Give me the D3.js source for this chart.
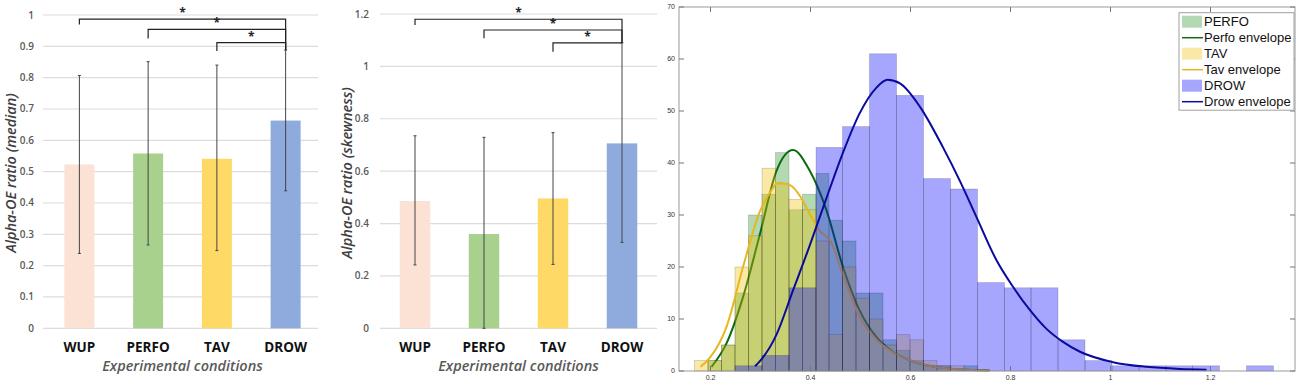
<!DOCTYPE html>
<html>
<head>
<meta charset="utf-8">
<script src="https://cdn.jsdelivr.net/npm/d3@7"></script>
<style>
  body { margin: 0; background: #fff; }
  svg { display: block; }
</style>
</head>
<body>
<svg id="chart" width="1300" height="383"></svg>
<script>
// ---- bar panels data ----
const categories = ['WUP', 'PERFO', 'TAV', 'DROW']
const barColors = ['#fbe2d4', '#a9d18e', '#ffd966', '#8faadc']

const medianValues = [0.523, 0.558, 0.541, 0.663]
const medianLow = [0.239, 0.266, 0.248, 0.439]
const medianHigh = [0.807, 0.851, 0.840, 0.888]
const medianTicks = [0, 0.1, 0.2, 0.3, 0.4, 0.5, 0.6, 0.7, 0.8, 0.9, 1]

const skewValues = [0.486, 0.360, 0.496, 0.706]
const skewLow = [0.242, 0, 0.244, 0.328]
const skewHigh = [0.735, 0.729, 0.747, 1.090]
const skewTicks = [0, 0.2, 0.4, 0.6, 0.8, 1, 1.2]

// significance brackets (all against DROW)
const bracketFrom = ['WUP', 'PERFO', 'TAV']
const medianBracketLevel = [0.987, 0.954, 0.912]
const medianBracketDrop = [0.970, 0.925, 0.885]
const skewBracketLevel = [1.180, 1.139, 1.090]
const skewBracketDrop = [1.158, 1.107, 1.056]

// ---- histogram panel data ----
const histEdges = [0.168, 0.195, 0.222, 0.249, 0.276, 0.303, 0.330, 0.357, 0.384, 0.411, 0.437, 0.464,
  0.491, 0.518, 0.545, 0.572, 0.599, 0.626, 0.653, 0.680, 0.707, 0.734, 0.761, 0.788]
const perfoCounts = [0, 2, 5, 15, 30, 34, 42, 31, 34, 38, 29, 25, 15, 15, 6, 4, 2, 1, 1, 0, 1, 0, 0]
const tavCounts = [2, 2, 5, 20, 26, 39, 36, 33, 31, 25, 7, 20, 14, 10, 5, 7, 6, 2, 1, 1, 0, 0, 0]
const drowEdges = [0.249, 0.303, 0.357, 0.411, 0.464, 0.518, 0.572, 0.626, 0.680, 0.734, 0.788,
  0.841, 0.895, 0.949, 1.003, 1.057, 1.111, 1.164, 1.218, 1.272, 1.326]
const drowCounts = [1, 3, 16, 43, 47, 61, 53, 37, 35, 17, 16, 16, 6, 2, 1, 1, 1, 1, 0, 1]

const perfoEnvelope = [[0.202, 0.8], [0.232, 5.3], [0.265, 14.2], [0.298, 26], [0.332, 38.5], [0.365, 42.5],
  [0.398, 38.6], [0.432, 30.9], [0.465, 20], [0.498, 11.7], [0.532, 6.5], [0.565, 3.7], [0.598, 2.1],
  [0.632, 1.1], [0.665, 0.6], [0.698, 0.3], [0.758, 0.1]]
const tavEnvelope = [[0.180, 0.8], [0.200, 2.7], [0.232, 8.5], [0.265, 20], [0.298, 30.5], [0.320, 34.5],
  [0.335, 36.2], [0.360, 35.7], [0.380, 33.5], [0.398, 30.3], [0.418, 27], [0.440, 25], [0.465, 18.5],
  [0.498, 10.5], [0.532, 6], [0.565, 3.6], [0.632, 1.1], [0.698, 0.3], [0.758, 0.1]]
const drowEnvelope = [[0.289, 0.9], [0.298, 1.8], [0.332, 7], [0.365, 15.5], [0.398, 24], [0.431, 33],
  [0.465, 42], [0.498, 49.5], [0.532, 54.5], [0.554, 56], [0.579, 55.3], [0.619, 50.8], [0.665, 43],
  [0.698, 36.7], [0.732, 29.6], [0.772, 21.3], [0.805, 16.2], [0.839, 11.7], [0.872, 8.1], [0.905, 5.6],
  [0.939, 3.7], [1.005, 1.7], [1.072, 0.8], [1.139, 0.4], [1.192, 0.26]]

const xTicksHist = [0.2, 0.4, 0.6, 0.8, 1, 1.2]
const yTicksHist = [0, 10, 20, 30, 40, 50, 60, 70]
const legendLabels = ['PERFO', 'Perfo envelope', 'TAV', 'Tav envelope', 'DROW', 'Drow envelope']

const svg = d3.select('#chart')
const barFont = "'Open Sans', 'DejaVu Sans', sans-serif"

/**
 * draws one bar chart with error bars and significance brackets
 */
function drawBarPanel(cfg) {
  const g = svg.append('g')

  const x = d3.scaleBand()
    .domain(categories)
    .range(cfg.xRange)
    .paddingInner(cfg.padding)
    .paddingOuter(cfg.padding / 2)

  const y = d3.scaleLinear()
    .domain(cfg.yDomain)
    .range([328.3, cfg.yTop])

  // gridlines + tick labels //
  g.selectAll('.grid')
    .data(cfg.ticks)
    .join('line')
    .attr('x1', cfg.gridX[0])
    .attr('x2', cfg.gridX[1])
    .attr('y1', d => y(d))
    .attr('y2', d => y(d))
    .attr('stroke', '#dcdcdc')
    .attr('stroke-width', 1.2)

  g.selectAll('.tick')
    .data(cfg.ticks)
    .join('text')
    .attr('x', cfg.tickX)
    .attr('y', d => y(d))
    .attr('dy', '0.35em')
    .attr('text-anchor', 'end')
    .style('font-family', barFont)
    .style('font-weight', 600)
    .style('font-size', '10px')
    .style('fill', '#595959')
    .text(d => d)

  // bars //
  g.selectAll('.bar')
    .data(cfg.values)
    .join('rect')
    .attr('x', (d, i) => x(categories[i]))
    .attr('width', x.bandwidth())
    .attr('y', d => y(d))
    .attr('height', d => y(0) - y(d))
    .attr('fill', (d, i) => barColors[i])

  // error bars //
  const cx = c => x(c) + x.bandwidth() / 2
  categories.forEach((c, i) => {
    g.append('line')
      .attr('x1', cx(c)).attr('x2', cx(c))
      .attr('y1', y(cfg.low[i])).attr('y2', y(cfg.high[i]))
      .attr('stroke', '#444').attr('stroke-width', 1)
    ;[cfg.low[i], cfg.high[i]].forEach(v => {
      g.append('line')
        .attr('x1', cx(c) - 1.5).attr('x2', cx(c) + 1.5)
        .attr('y1', y(v)).attr('y2', y(v))
        .attr('stroke', '#444').attr('stroke-width', 1)
    })
  })

  // significance brackets //
  const to = 'DROW'
  const toHigh = cfg.high[categories.indexOf(to)]
  bracketFrom.forEach((from, i) => {
    const lvl = y(cfg.level[i])
    g.append('path')
      .attr('d', `M${cx(from)},${y(cfg.drop[i])}V${lvl}H${cx(to)}V${y(toHigh)}`)
      .attr('fill', 'none')
      .attr('stroke', '#222')
      .attr('stroke-width', 1.2)
    g.append('text')
      .attr('x', (cx(from) + cx(to)) / 2)
      .attr('y', lvl - 2)
      .attr('text-anchor', 'middle')
      .style('font-family', barFont)
      .style('font-weight', 700)
      .style('font-size', '12px')
      .style('fill', '#222')
      .text('*')
  })

  // category labels //
  g.selectAll('.cat')
    .data(categories)
    .join('text')
    .attr('x', d => cx(d))
    .attr('y', 352)
    .attr('text-anchor', 'middle')
    .style('font-family', barFont)
    .style('font-weight', 700)
    .style('font-size', '13.5px')
    .style('fill', '#111')
    .text(d => d)

  g.append('text')
    .attr('x', (cx('WUP') + cx('DROW')) / 2)
    .attr('y', 371)
    .attr('text-anchor', 'middle')
    .style('font-family', barFont)
    .style('font-style', 'italic')
    .style('font-weight', 600)
    .style('font-size', '14.5px')
    .style('fill', '#595959')
    .text('Experimental conditions')

  g.append('text')
    .attr('transform', `translate(${cfg.titleX}, 173) rotate(-90)`)
    .attr('text-anchor', 'middle')
    .attr('dy', '0.35em')
    .style('font-family', barFont)
    .style('font-style', 'italic')
    .style('font-weight', 600)
    .style('font-size', '14.5px')
    .style('fill', '#404040')
    .text(cfg.title)
}

drawBarPanel({
  values: medianValues, low: medianLow, high: medianHigh, ticks: medianTicks,
  yDomain: [0, 1], yTop: 15, xRange: [45, 320], padding: 1 - 30 / 68.75,
  gridX: [43, 318], tickX: 34, titleX: 11,
  level: medianBracketLevel, drop: medianBracketDrop,
  title: 'Alpha-OE ratio (median)'
})

drawBarPanel({
  values: skewValues, low: skewLow, high: skewHigh, ticks: skewTicks,
  yDomain: [0, 1.2], yTop: 14, xRange: [380.5, 656.5], padding: 1 - 30.5 / 69,
  gridX: [380, 657], tickX: 369, titleX: 347,
  level: skewBracketLevel, drop: skewBracketDrop,
  title: 'Alpha-OE ratio (skewness)'
})

// ---- histogram panel ----
const hx = d3.scaleLinear().domain([0.137, 1.369]).range([679, 1295])
const hy = d3.scaleLinear().domain([0, 70]).range([371, 7])
const hg = svg.append('g')

function drawHist(edges, counts, color, alpha) {
  hg.append('g')
    .selectAll('rect')
    .data(counts.map((c, i) => ({ x0: edges[i], x1: edges[i + 1], c })).filter(d => d.c > 0))
    .join('rect')
    .attr('x', d => hx(d.x0))
    .attr('width', d => hx(d.x1) - hx(d.x0))
    .attr('y', d => hy(d.c))
    .attr('height', d => hy(0) - hy(d.c))
    .attr('fill', color)
    .attr('fill-opacity', alpha)
    .attr('stroke', '#000')
    .attr('stroke-opacity', 0.22)
    .attr('stroke-width', 0.7)
}

const envLine = d3.line()
  .x(d => hx(d[0]))
  .y(d => hy(d[1]))
  .curve(d3.curveMonotoneX)

function drawEnvelope(points, color) {
  hg.append('path')
    .attr('d', envLine(points))
    .attr('fill', 'none')
    .attr('stroke', color)
    .attr('stroke-width', 2)
}

drawHist(histEdges, perfoCounts, '#008000', 0.3)
drawEnvelope(perfoEnvelope, '#0b6b12')
drawHist(histEdges, tavCounts, '#f0c000', 0.35)
drawEnvelope(tavEnvelope, '#e6b81e')
drawHist(drowEdges, drowCounts, '#0000ff', 0.35)
drawEnvelope(drowEnvelope, '#0a0a9e')

// axes box //
hg.append('rect')
  .attr('x', hx.range()[0]).attr('y', hy.range()[1])
  .attr('width', hx.range()[1] - hx.range()[0])
  .attr('height', hy.range()[0] - hy.range()[1])
  .attr('fill', 'none')
  .attr('stroke', '#9a9a9a')
  .attr('stroke-width', 1)

const tickLen = 5
xTicksHist.forEach(t => {
  hg.append('line').attr('x1', hx(t)).attr('x2', hx(t)).attr('y1', hy(0)).attr('y2', hy(0) - tickLen)
    .attr('stroke', '#777')
  hg.append('line').attr('x1', hx(t)).attr('x2', hx(t)).attr('y1', hy(70)).attr('y2', hy(70) + tickLen)
    .attr('stroke', '#777')
})
yTicksHist.forEach(t => {
  hg.append('line').attr('x1', hx.range()[0]).attr('x2', hx.range()[0] + tickLen).attr('y1', hy(t)).attr('y2', hy(t))
    .attr('stroke', '#777')
  hg.append('line').attr('x1', hx.range()[1]).attr('x2', hx.range()[1] - tickLen).attr('y1', hy(t)).attr('y2', hy(t))
    .attr('stroke', '#777')
})

hg.selectAll('.xt')
  .data(xTicksHist)
  .join('text')
  .attr('x', d => hx(d))
  .attr('y', 380)
  .attr('text-anchor', 'middle')
  .style('font-family', "'Liberation Sans', Arial, sans-serif")
  .style('font-size', '7px')
  .style('fill', '#333')
  .text(d => d)

hg.selectAll('.yt')
  .data(yTicksHist)
  .join('text')
  .attr('x', 675)
  .attr('y', d => hy(d))
  .attr('dy', '0.35em')
  .attr('text-anchor', 'end')
  .style('font-family', "'Liberation Sans', Arial, sans-serif")
  .style('font-size', '7px')
  .style('fill', '#333')
  .text(d => d)

// legend //
const legend = hg.append('g').attr('transform', 'translate(1179, 12.7)')
legend.append('rect')
  .attr('width', 115).attr('height', 97.5)
  .attr('fill', '#fff')
  .attr('stroke', '#a0a0a0')
const legendSwatch = [
  { type: 'patch', color: '#008000', alpha: 0.3 },
  { type: 'line', color: '#0b6b12' },
  { type: 'patch', color: '#f0c000', alpha: 0.35 },
  { type: 'line', color: '#e6b81e' },
  { type: 'patch', color: '#0000ff', alpha: 0.35 },
  { type: 'line', color: '#0a0a9e' }
]
legendLabels.forEach((lab, i) => {
  const cy = 9 + i * 16
  const s = legendSwatch[i]
  if (s.type === 'patch') {
    legend.append('rect')
      .attr('x', 3).attr('y', cy - 6).attr('width', 20).attr('height', 12)
      .attr('fill', s.color).attr('fill-opacity', s.alpha)
  } else {
    legend.append('line')
      .attr('x1', 3).attr('x2', 24).attr('y1', cy).attr('y2', cy)
      .attr('stroke', s.color).attr('stroke-width', 1.5)
  }
  legend.append('text')
    .attr('x', 25)
    .attr('y', cy)
    .attr('dy', '0.35em')
    .style('font-family', "'Liberation Sans', Arial, sans-serif")
    .style('font-size', '13px')
    .style('fill', '#111')
    .text(lab)
})
</script>
</body>
</html>
